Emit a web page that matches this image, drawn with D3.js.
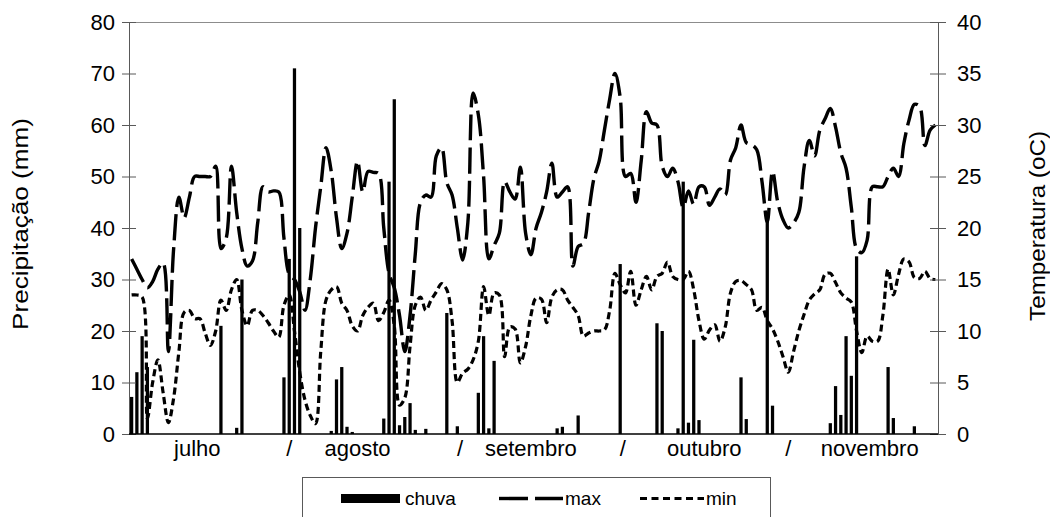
<!DOCTYPE html>
<html>
<head>
<meta charset="utf-8">
<script src="https://cdn.jsdelivr.net/npm/d3@7"></script>
<style>
body{margin:0;background:#fff}
svg{display:block}
text{font-family:"Liberation Sans",Arial,sans-serif;fill:#000}
</style>
</head>
<body>
<script>
// daily data, 154 days from the start of julho to the end of novembro
var chuva = [
 7.2,12,19,13,0,0,0,0,0,0,
 0,0,0,0,0,0,0,21,0,0,
 1.2,30,0,0,0,0,0,0,0,11,
 34,71,40,0,0,0,0,0,0.6,10.6,
 13,1.4,0.4,0,0,0,0,0,3,49,
 65,1.7,3.3,6,0.8,0,1,0,0,0,
 23.5,0,1.5,0,0,0,8,19,1.1,14.2,
 0,0,0,0,0,0,0,0,0,0,
 0,1.1,1.4,0,0,3.6,0,0,0,0,
 0,0,0,33,0,0,0,0,0,0,
 21.5,20,0,0,1.1,49,2.2,18.3,2.7,0,
 0,0,0,0,0,0,11,2.9,0,0,
 0,41.5,5.5,0,0,0,0,0,0,0,
 0,0,0,2.1,9.3,3.7,19,11.3,34.5,0,
 0,0,0,0,13,3.1,0,0,0,1.5,
 0,0,0,0];
var tmax = [
 17,16,15,14.2,14.8,16,16.6,8,18,23,
 21,23,25,25,25,25,26,18,19,26,
 21.5,18,16.3,16.8,20.5,24,23.5,23.6,23.5,19,
 15.5,15,13.8,12,15,20,24,27.8,25.5,21,
 18,19.5,23,26.5,23.5,25.5,25.4,25.3,20,15.6,
 14.2,11.5,8,11.5,17.5,22.5,23.2,23,27,27.8,
 24.4,23.2,20,16.9,20.5,33.1,31,25,17,18.3,
 19.5,24.5,23.5,22.8,25.9,19.5,17.4,20,21.5,23.5,
 26.3,23,23.5,24,16.3,18.2,18.5,21.5,24.8,26.5,
 29.5,32.5,35,32.7,25,25.3,22.5,26.5,31.3,30.2,
 30,26,25,25.8,24.5,22,23.6,22.3,24,24,
 22.2,23,23.8,23.2,26.6,27.8,30,28.3,28.1,27.6,
 24.5,20.6,25.5,22.5,20.8,20,20.5,21.5,25.9,28.5,
 27,29.5,30.6,31.6,29.8,27.3,25.8,22,18,17.6,
 18.8,24,24,24,25,25.8,25,28.2,30.5,32,
 31.8,28,29.5,30];
var tmin = [
 13.5,13.5,13.3,1.5,5,7.2,4,1.1,3.5,8,
 11.8,12,11.2,11.2,9.8,8.6,10,13,12,14,
 15,12,10.5,12,12,11.5,10.8,10,9.4,12.5,
 13.5,10,6,3.3,1.8,1,8,13,14,14.3,
 12.7,12,10.5,10,11.5,12.3,12.7,11,11.8,13,
 10.5,2.8,3.5,8.5,12.5,13.3,12,13,13.8,14.6,
 14,11,5,5.9,6.3,7.2,9,14.3,11.5,13.7,
 13.5,7.5,10.4,10.2,6.9,8.5,11.5,13.2,13.1,10.8,
 13.3,14,14,13,12.3,11.5,9.5,9.8,10,10,
 10.1,12,15.6,14.5,13.7,15.8,12.5,14,15.3,14,
 15.3,15.6,16.7,15.3,15,15,15.8,14,11,9.2,
 10.1,10.6,9,10.4,13.7,14.8,14.9,14.5,14,12,
 12.3,11,10.2,9,7.5,6,8,10,11.6,13,
 13.6,14,15.5,15.6,14.7,13.7,13.2,12.8,10,7.9,
 9.5,9,9,11.5,16,13.5,15.5,17,16.7,15.2,
 15.1,15.8,15.1,15];
var monthLabels = ["julho","/","agosto","/","setembro","/","outubro","/","novembro"];
var monthPos = [12.5,30,43,62.5,76,93.5,109,125,140.5];
var precTicks = [0,10,20,30,40,50,60,70,80];
var tempTicks = [0,5,10,15,20,25,30,35,40];

var width=1050, height=517;
var plotL=129, plotR=938, plotT=22, plotB=434;

var svg = d3.select("body").append("svg").attr("width",width).attr("height",height);

var days = d3.range(chuva.length);
var x = d3.scaleBand().domain(days).range([plotL,plotR]).paddingInner(0.38).paddingOuter(0.19);
var xc = d3.scaleLinear().domain([-0.5,chuva.length-0.5]).range([plotL,plotR]); // centre of each day
var yP = d3.scaleLinear().domain([0,80]).range([plotB,plotT]);
var yT = d3.scaleLinear().domain([0,40]).range([plotB,plotT]);

// top border of the plot area
svg.append("line").attr("x1",plotL).attr("x2",plotR).attr("y1",plotT+0.5).attr("y2",plotT+0.5)
	.attr("stroke","#8c8c8c").attr("stroke-width",1);

// rain bars
svg.append("g").selectAll("rect").data(days.filter(function(d){return chuva[d]>0;})).join("rect")
	.attr("x",function(d){return xc(d)-x.bandwidth()/2;})
	.attr("width",x.bandwidth())
	.attr("y",function(d){return yP(chuva[d]);})
	.attr("height",function(d){return plotB-yP(chuva[d]);})
	.attr("fill","#000");

// temperature lines
var lmax = d3.line().x(function(d){return xc(d);}).y(function(d){return yT(tmax[d]);}).curve(d3.curveCatmullRom.alpha(0.5));
var lmin = d3.line().x(function(d){return xc(d);}).y(function(d){return yT(tmin[d]);}).curve(d3.curveCatmullRom.alpha(0.5));
svg.append("path").attr("d",lmax(days)).attr("fill","none").attr("stroke","#000").attr("stroke-width",3.4).attr("stroke-dasharray","26,7");
svg.append("path").attr("d",lmin(days)).attr("fill","none").attr("stroke","#000").attr("stroke-width",3.2).attr("stroke-dasharray","7,4");

// axes
var axL = svg.append("g").attr("transform","translate("+plotL+",0)")
	.call(d3.axisLeft(yP).tickValues(precTicks).tickSizeOuter(0).tickSize(7).tickPadding(7));
axL.selectAll(".tick line").attr("x1",7);
var axR = svg.append("g").attr("transform","translate("+plotR+",0)")
	.call(d3.axisRight(yT).tickValues(tempTicks).tickSizeOuter(0).tickSize(8).tickPadding(11));
axR.selectAll(".tick line").attr("x1",-8);
[axL,axR].forEach(function(a){
	a.select(".domain").attr("stroke","#595959");
	a.selectAll(".tick line").attr("stroke","#595959");
	a.selectAll(".tick text").attr("font-size",22).attr("font-family","Liberation Sans, Arial, sans-serif").attr("fill","#000");
});
svg.append("line").attr("x1",plotL).attr("x2",plotR).attr("y1",plotB).attr("y2",plotB).attr("stroke","#000").attr("stroke-width",1.5);

// month labels under the axis
svg.append("g").selectAll("text").data(monthLabels).join("text")
	.attr("x",function(d,i){return xc(monthPos[i]);}).attr("y",456)
	.attr("text-anchor","middle").attr("font-size",22).text(function(d){return d;});

// axis titles
svg.append("text").attr("transform","translate(28,224) rotate(-90)")
	.attr("text-anchor","middle").attr("font-size",22)
	.attr("textLength",212).attr("lengthAdjust","spacingAndGlyphs").text("Precipitação (mm)");
svg.append("text").attr("transform","translate(1045,226) rotate(-90)")
	.attr("text-anchor","middle").attr("font-size",22)
	.attr("textLength",190).attr("lengthAdjust","spacingAndGlyphs").text("Temperatura (oC)");

// legend
var lg = svg.append("g");
lg.append("rect").attr("x",302.5).attr("y",477.5).attr("width",468).attr("height",60).attr("fill","none").attr("stroke","#595959");
lg.append("rect").attr("x",341).attr("y",494).attr("width",59).attr("height",9).attr("fill","#000");
lg.append("text").attr("x",405).attr("y",505).attr("font-size",19).text("chuva");
lg.append("line").attr("x1",499).attr("x2",563).attr("y1",498.5).attr("y2",498.5).attr("stroke","#000").attr("stroke-width",3.4).attr("stroke-dasharray","29,7");
lg.append("text").attr("x",565).attr("y",505).attr("font-size",19).text("max");
lg.append("line").attr("x1",640).attr("x2",704).attr("y1",498.5).attr("y2",498.5).attr("stroke","#000").attr("stroke-width",3.2).attr("stroke-dasharray","7,4.5");
lg.append("text").attr("x",706).attr("y",505).attr("font-size",19).text("min");
</script>
</body>
</html>
